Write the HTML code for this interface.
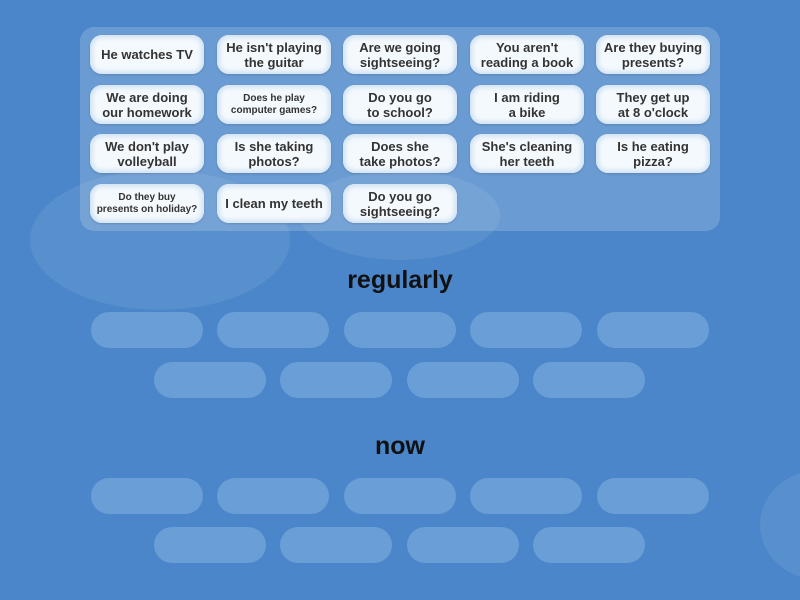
<!DOCTYPE html>
<html><head><style>
body{margin:0;width:800px;height:600px;overflow:hidden;background:#4a86c9;font-family:"Liberation Sans",sans-serif;position:relative}
.cloud{position:absolute;border-radius:50%;background:rgba(255,255,255,0.08)}
.box{position:absolute;left:80px;top:27px;width:640px;height:204px;border-radius:14px;background:rgba(255,255,255,0.18)}
.c{position:absolute;width:114px;height:39px;background:#f4f9fd;border-radius:12px;box-shadow:0 0 4px 3px #d3e4f4 inset,0 1px 2px rgba(0,0,0,0.15);display:flex;align-items:center;justify-content:center;text-align:center;font-weight:bold;color:#333;font-size:13px;line-height:15px}
.s{font-size:10px;line-height:12px}
.slot{position:absolute;width:112px;height:36px;border-radius:18px;background:#6a9ed6}
.t{position:absolute;left:0;width:800px;text-align:center;font-weight:bold;font-size:25px;color:#111}
</style></head><body>
<div class="cloud" style="left:30px;top:170px;width:260px;height:140px"></div>
<div class="cloud" style="left:300px;top:170px;width:200px;height:90px"></div>
<div class="cloud" style="left:760px;top:470px;width:120px;height:110px"></div>
<div class="box"></div>
<div class="c" style="left:90px;top:35px">He watches TV</div>
<div class="c" style="left:217px;top:35px">He isn't playing<br>the guitar</div>
<div class="c" style="left:343px;top:35px">Are we going<br>sightseeing?</div>
<div class="c" style="left:470px;top:35px">You aren't<br>reading a book</div>
<div class="c" style="left:596px;top:35px">Are they buying<br>presents?</div>
<div class="c" style="left:90px;top:85px">We are doing<br>our homework</div>
<div class="c s" style="left:217px;top:85px">Does he play<br>computer games?</div>
<div class="c" style="left:343px;top:85px">Do you go<br>to school?</div>
<div class="c" style="left:470px;top:85px">I am riding<br>a bike</div>
<div class="c" style="left:596px;top:85px">They get up<br>at 8 o'clock</div>
<div class="c" style="left:90px;top:134px">We don't play<br>volleyball</div>
<div class="c" style="left:217px;top:134px">Is she taking<br>photos?</div>
<div class="c" style="left:343px;top:134px">Does she<br>take photos?</div>
<div class="c" style="left:470px;top:134px">She's cleaning<br>her teeth</div>
<div class="c" style="left:596px;top:134px">Is he eating<br>pizza?</div>
<div class="c s" style="left:90px;top:184px">Do they buy<br>presents on holiday?</div>
<div class="c" style="left:217px;top:184px">I clean my teeth</div>
<div class="c" style="left:343px;top:184px">Do you go<br>sightseeing?</div>
<div class="t" style="top:266px">regularly</div>
<div class="slot" style="left:91px;top:312px"></div>
<div class="slot" style="left:217px;top:312px"></div>
<div class="slot" style="left:344px;top:312px"></div>
<div class="slot" style="left:470px;top:312px"></div>
<div class="slot" style="left:597px;top:312px"></div>
<div class="slot" style="left:154px;top:362px"></div>
<div class="slot" style="left:280px;top:362px"></div>
<div class="slot" style="left:407px;top:362px"></div>
<div class="slot" style="left:533px;top:362px"></div>
<div class="t" style="top:432px">now</div>
<div class="slot" style="left:91px;top:478px"></div>
<div class="slot" style="left:217px;top:478px"></div>
<div class="slot" style="left:344px;top:478px"></div>
<div class="slot" style="left:470px;top:478px"></div>
<div class="slot" style="left:597px;top:478px"></div>
<div class="slot" style="left:154px;top:527px"></div>
<div class="slot" style="left:280px;top:527px"></div>
<div class="slot" style="left:407px;top:527px"></div>
<div class="slot" style="left:533px;top:527px"></div>
</body></html>
